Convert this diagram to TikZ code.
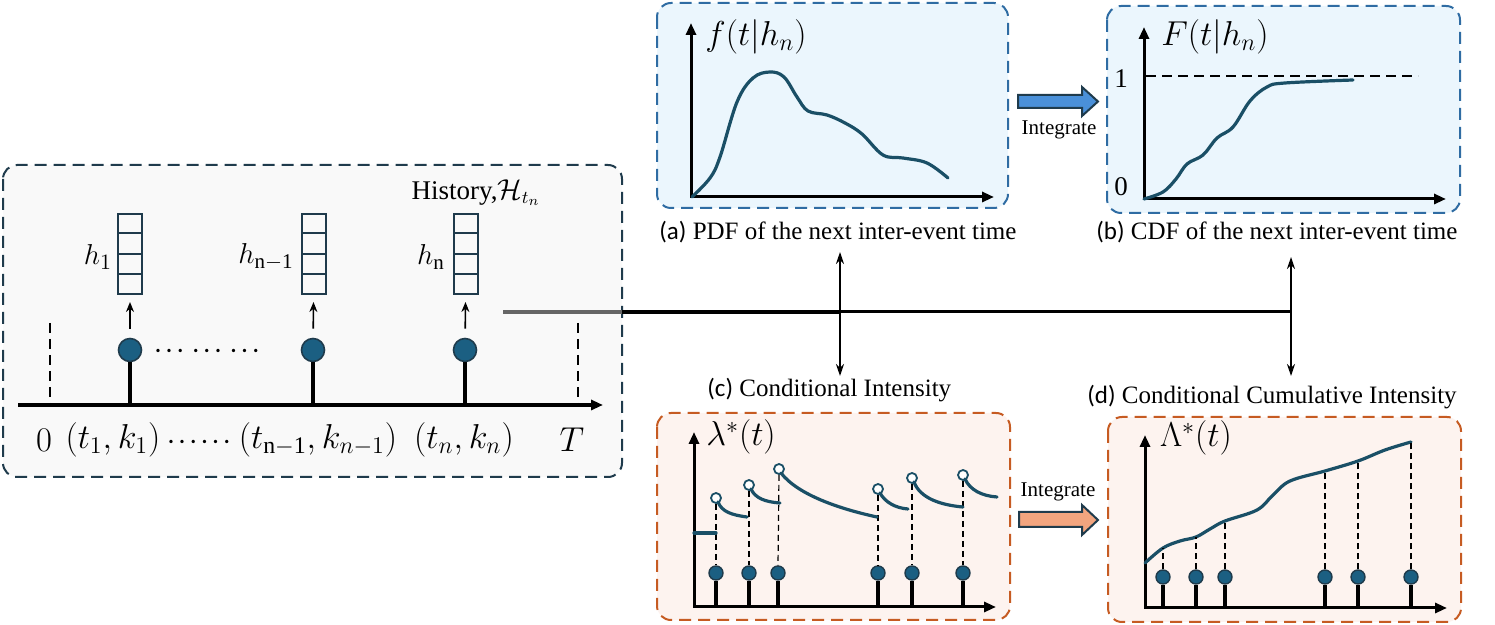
\documentclass[tikz,border=0pt]{standalone}
\usepackage{fontspec}
\setmainfont{Liberation Serif}
\newfontfamily\capfont{Carlito}
\usetikzlibrary{arrows.meta,calc}
\definecolor{navy}{HTML}{1F3B4C}
\definecolor{tealc}{HTML}{1A4F66}
\definecolor{dotc}{HTML}{1B5F82}
\definecolor{bluebd}{HTML}{2F6CA3}
\definecolor{bluefill}{HTML}{EBF6FD}
\definecolor{orgbd}{HTML}{C65B22}
\definecolor{orgfill}{HTML}{FDF3EF}
\definecolor{arrblue}{HTML}{4A90D9}
\definecolor{arrorg}{HTML}{F2A57F}
\definecolor{panelgray}{HTML}{F9F9F9}
\definecolor{linegray}{HTML}{666666}
\tikzset{
  panelbox/.style={dash pattern=on 6pt off 3.5pt, line width=1pt, rounded corners=7pt},
  axisline/.style={line width=1.5pt, {Triangle[length=6pt,width=5pt]}-{Triangle[length=6pt,width=5pt]}, line join=miter},
  curveline/.style={tealc, line width=1.6pt, line cap=round},
  evt/.style={circle, draw=navy, fill=dotc, line width=0.8pt, minimum size=11.5pt, inner sep=0pt},
  sevt/.style={circle, draw=navy, fill=dotc, line width=0.7pt, minimum size=7pt, inner sep=0pt},
  stemline/.style={line width=1.6pt},
  opendot/.style={circle, draw=tealc, fill=white, line width=0.9pt, minimum size=5pt, inner sep=0pt},
  vdash/.style={dash pattern=on 3pt off 2pt, line width=0.6pt},
  tdash/.style={dash pattern=on 5pt off 3pt, line width=0.8pt},
  vecbox/.style={draw=navy, line width=1pt, minimum width=12pt, minimum height=40pt, inner sep=0pt},
  uparr/.style={line width=0.8pt, -{Stealth[length=5pt,width=4pt]}, shorten <=4.5pt, shorten >=3.5pt},
  dblarr/.style={line width=1.1pt, {Stealth[length=6pt,width=4pt]}-{Stealth[length=6pt,width=4pt]}},
  txt/.style={font=\fontsize{12.5}{15}\selectfont, inner sep=0pt},
  htxt/.style={font=\fontsize{13.5}{16}\selectfont, inner sep=0pt},
  hlab/.style={font=\fontsize{15}{18}\selectfont, inner sep=0pt},
  dotlab/.style={font=\fontsize{10.5}{12}\selectfont\boldmath, inner sep=0pt},
  smalltxt/.style={font=\fontsize{10.5}{12}\selectfont, inner sep=0pt},
  mlabel/.style={font=\fontsize{16.5}{20}\selectfont, inner sep=0pt},
  tlabel/.style={font=\fontsize{17}{20}\selectfont, inner sep=0pt},
  bigarrow/.style={draw=navy, line width=1pt, line join=miter},
}
\begin{document}
\begin{tikzpicture}[x=0.5pt,y=-0.5pt]
\useasboundingbox (0,0) rectangle (1495,625);

% ---------------- left panel ----------------
\draw[panelbox, draw=navy, fill=panelgray] (3,165) rectangle (622,477);
\coordinate (tl0) at (18,405);
\coordinate (tl1) at (603,405);
\draw[line width=1.6pt, -{Triangle[length=6pt,width=5pt]}] (tl0) -- (tl1);
\draw[tdash] (50,323) -- (50,405);
\draw[tdash] (578,323) -- (578,405);

\node[evt] (e1) at (130,350) {};
\node[evt] (e2) at (313,350) {};
\node[evt] (e3) at (465,350) {};
\foreach \e in {e1,e2,e3} \draw[stemline] (\e.south) -- (\e.south |- tl0);

\node[vecbox] (v1) at (130,254) {};
\node[vecbox] (v2) at (314,254) {};
\node[vecbox] (v3) at (466,254) {};
\foreach \v in {v1,v2,v3} {
  \foreach \f in {0.25,0.5,0.75}
    \draw[navy, line width=1pt] ($(\v.north west)!\f!(\v.south west)$) -- ($(\v.north east)!\f!(\v.south east)$);
}
\draw[uparr] (e1) -- (v1);
\draw[uparr] (e2) -- (v2);
\draw[uparr] (e3) -- (v3);

\node[hlab] (lh1) at (98,257) {$h_1$};
\node[hlab] (lh2) at (266,257) {$h_{\mathrm{n-1}}$};
\node[hlab] (lh3) at (431,257) {$h_{\mathrm{n}}$};
\node[htxt] (hist) at (476,193) {History,$\mathcal{H}_{t_n}$};
\node[dotlab] (dots) at (207,351) {$\cdots\,\cdots\,\cdots$};

\node[tlabel] (l0) at (44,440) {$0$};
\node[tlabel] (l1) at (113,440) {$(t_1,k_1)$};
\node[dotlab] (l2) at (199,442) {$\cdots\cdots$};
\node[tlabel] (l3) at (318,440) {$(t_{\mathrm{n-1}},k_{n-1})$};
\node[tlabel] (l4) at (464,440) {$(t_n,k_n)$};
\node[tlabel] (l5) at (572,440) {$T$};

% ---------------- connectors ----------------
\coordinate (hl0) at (503,312);
\coordinate (hlb) at (622,312);
\coordinate (hA) at (840,312);
\coordinate (hB) at (1291,312);
\draw[linegray, line width=2pt] (hl0) -- (hlb);
\draw[black, line width=2pt] (hlb) -- (hA);
\draw[black, line width=1.5pt] (hA) -- (hB);
\coordinate (aTop) at (840,252);
\coordinate (aBot) at (840,376);
\coordinate (bTop) at (1291,257);
\coordinate (bBot) at (1291,376);
\draw[dblarr] (aTop) -- (aBot);
\draw[dblarr] (bTop) -- (bBot);

% ---------------- panel (a) ----------------
\draw[panelbox, draw=bluebd, fill=bluefill] (657,3) rectangle (1008,208);
\coordinate (aO) at (691,197);
\draw[axisline] (691,23) -- (aO) -- (994,197);
\node[mlabel] (fa) at (756,37) {$f(t|h_n)$};
\draw[curveline] plot[smooth, tension=0.6] coordinates {(692,197) (710,178) (720,157) (737,102) (753,78) (770,72) (784,77) (797,97) (808,111) (827,115) (845,123) (862,134) (883,155) (903,158) (927,163) (948,178)};
\node[txt, anchor=west] (capa) at (659,232) {{\capfont (a)} PDF of the next inter-event time};

% ---------------- panel (b) ----------------
\draw[panelbox, draw=bluebd, fill=bluefill] (1107,6) rectangle (1460,213);
\coordinate (bO) at (1144,199);
\draw[axisline] (1144,27) -- (bO) -- (1446,199);
\node[mlabel] (fb) at (1215,37) {$F(t|h_n)$};
\draw[tdash] (1146,76) -- (1418,76);
\node[htxt] (one) at (1121,79) {1};
\node[htxt] (zero) at (1121,187) {0};
\draw[curveline] plot[smooth, tension=0.6] coordinates {(1144,199) (1163,192) (1176,179) (1187,164) (1203,155) (1217,138) (1233,127) (1250,101) (1267,87) (1285,83) (1353,80)};
\node[txt, anchor=west] (capb) at (1096,232) {{\capfont (b)} CDF of the next inter-event time};

% blue integrate arrow
\draw[bigarrow, fill=arrblue] (1018,95) -- (1082,95) -- (1082,87) -- (1098,101.5) -- (1082,116) -- (1082,108) -- (1018,108) -- cycle;
\node[smalltxt] (inta) at (1059,130) {Integrate};

% ---------------- panel (c) ----------------
\draw[panelbox, draw=orgbd, fill=orgfill] (657,413) rectangle (1010,620);
\coordinate (cO) at (694,607);
\draw[axisline] (694,432) -- (cO) -- (996,607);
\node[mlabel] (lam) at (741,437) {$\lambda^{*}(t)$};
\node[txt, anchor=west] (capc) at (707,390) {{\capfont (c)} Conditional Intensity};

\foreach \n/\x in {1/716,2/749,3/778,4/878,5/912,6/963} {
  \node[sevt] (c\n) at (\x,573) {};
  \draw[stemline] (c\n.south) -- (c\n.south |- cO);
}
\node[opendot] (o1) at (716,498) {};
\node[opendot] (o2) at (749,485) {};
\node[opendot] (o3) at (779,469) {};
\node[opendot] (o4) at (878,489) {};
\node[opendot] (o5) at (912,478) {};
\node[opendot] (o6) at (963,475) {};
\foreach \n in {1,...,6} \draw[vdash] (o\n.south) -- (c\n.north);
\draw[curveline] (694,533) -- (716,533);
\draw[curveline] (718,502) .. controls (722,512) and (732,515) .. (747,517);
\draw[curveline] (751,489) .. controls (755,498) and (765,502) .. (780,503);
\draw[curveline] (781,473) .. controls (798,495) and (840,509) .. (877,517);
\draw[curveline] (880,493) .. controls (885,502) and (895,508) .. (908,509);
\draw[curveline] (914,482) .. controls (920,498) and (940,505) .. (963,507);
\draw[curveline] (965,479) .. controls (970,490) and (982,496) .. (997,497);

% orange integrate arrow
\draw[bigarrow, fill=arrorg] (1019,512) -- (1082,512) -- (1082,505) -- (1098,520) -- (1082,535) -- (1082,527) -- (1019,527) -- cycle;
\node[smalltxt] (intb) at (1058,492) {Integrate};

% ---------------- panel (d) ----------------
\draw[panelbox, draw=orgbd, fill=orgfill] (1108,417) rectangle (1461,622);
\coordinate (dO) at (1145,608);
\draw[axisline] (1145,435) -- (dO) -- (1447,608);
\node[mlabel] (Lam) at (1196,438) {$\Lambda^{*}(t)$};
\node[txt, anchor=west] (capd) at (1087,397) {{\capfont (d)} Conditional Cumulative Intensity};
\draw[curveline] plot[smooth, tension=0.6] coordinates {(1145,563) (1163,548) (1180,541) (1196,537) (1210,529) (1225,521) (1257,510) (1273,495) (1290,481) (1325,471) (1358,461) (1385,450) (1411,442)};
\foreach \n/\x/\yy in {1/1163/548,2/1196/537,3/1225/521,4/1325/471,5/1358/461,6/1411/442} {
  \node[sevt] (d\n) at (\x,577) {};
  \coordinate (dt\n) at (\x,\yy);
  \draw[stemline] (d\n.south) -- (d\n.south |- dO);
  \draw[vdash] (d\n.north) -- (dt\n);
}
\end{tikzpicture}
\end{document}
